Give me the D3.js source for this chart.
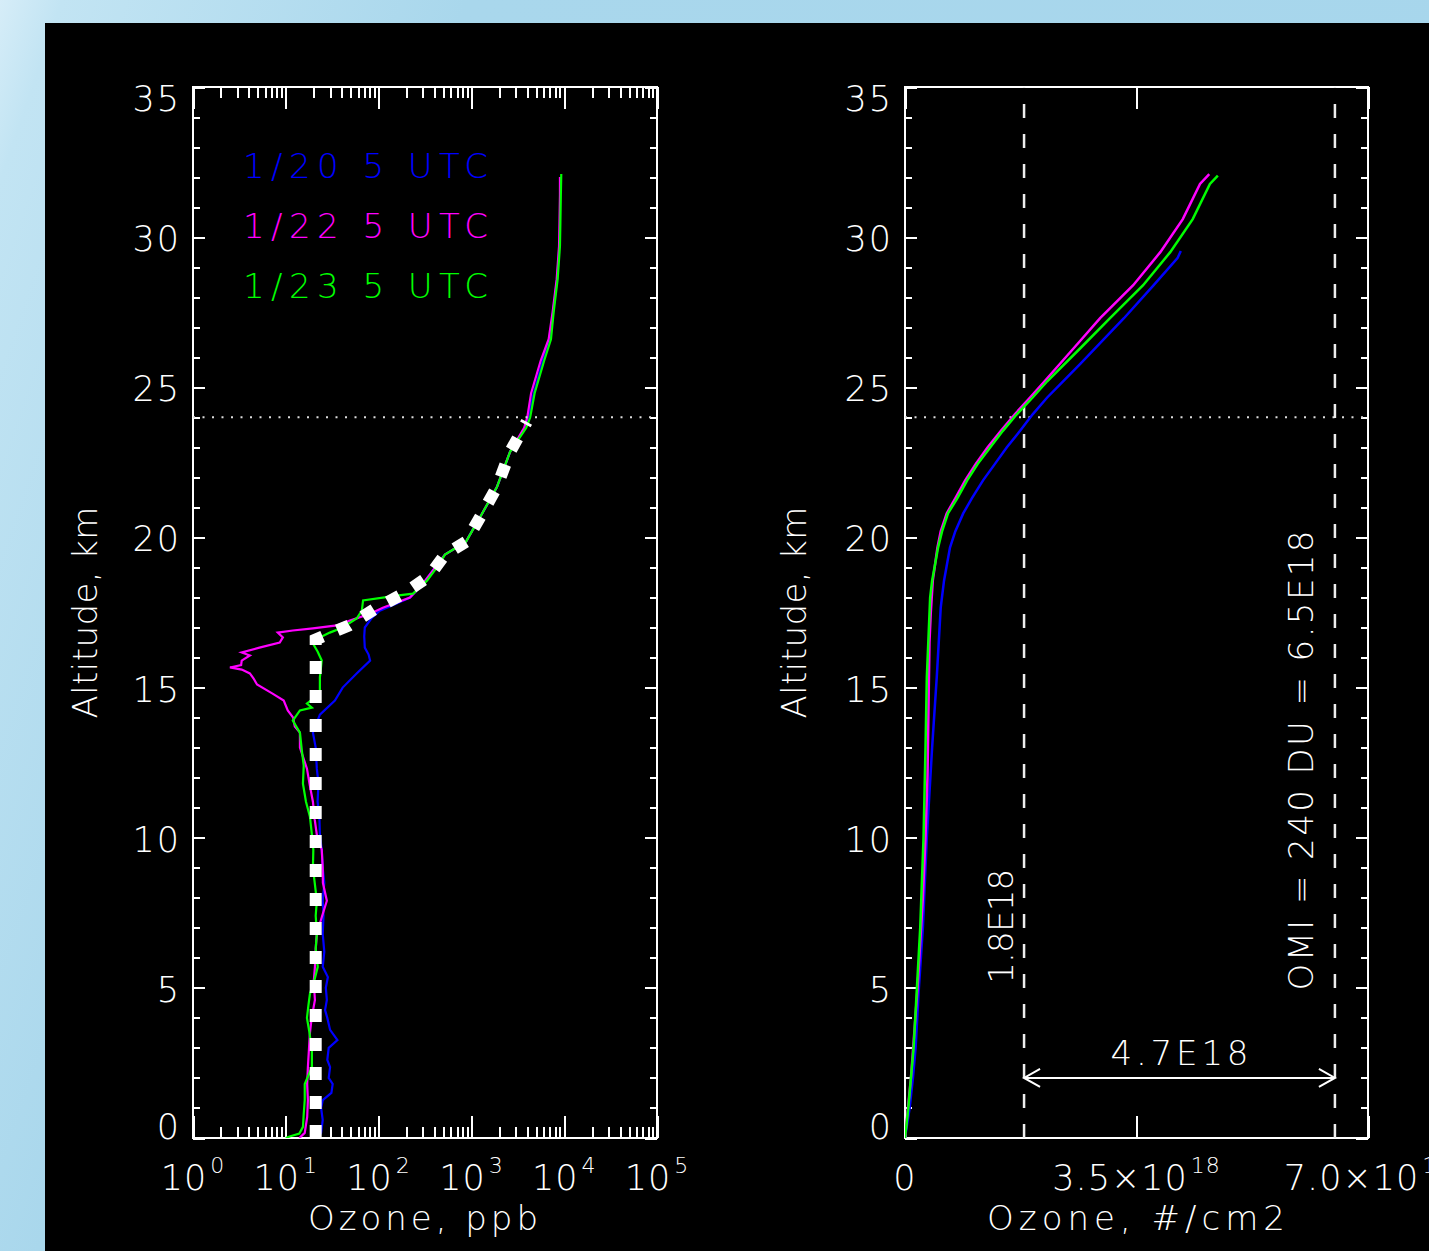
<!DOCTYPE html>
<html>
<head>
<meta charset="utf-8">
<script src="https://cdn.jsdelivr.net/npm/d3@7"></script>
<style>
  html, body { margin: 0; padding: 0; background: #a9d7ec; }
  svg { display: block; }
  text { font-family: "DejaVu Sans", sans-serif; font-weight: 200; fill: #fff; }
</style>
</head>
<body>
<svg width="1429" height="1251"></svg>
<script>
// ---- ozone mixing ratio profiles (ppb vs km) ----
const altBlue = [0, 0.17, 0.6, 1.0, 1.26, 1.5, 1.8, 2.0, 2.36, 2.6, 3.0, 3.26, 3.6, 4.0, 4.26, 4.6, 5.0, 5.36, 5.7, 6.2, 6.8, 7.4, 7.9, 8.5, 9.0, 9.6, 10.1, 10.7, 11.2, 11.8, 12.3, 13.0, 13.5, 14.1, 14.57, 15.0, 15.47, 15.9, 16.1, 16.33, 16.7, 17.0, 17.33, 17.56, 17.8, 18.0, 18.46, 18.9, 19.43, 19.86, 20.3, 20.73, 21.2, 21.69, 22.3, 22.85, 23.65, 24.0, 24.8, 25.9, 26.6, 27.5, 28.6, 29.5];
const ppbBlue = [22, 24, 25, 24, 25, 31, 32, 29, 30, 28, 29, 36, 30, 28, 26.5, 27.7, 27, 28.4, 25, 26, 25, 25.5, 25, 26, 25, 24.4, 23.3, 23, 22, 22.5, 21.6, 21, 19.6, 23.3, 33.8, 41, 58, 81, 78, 71, 70, 71, 85, 103, 157, 218, 300, 385, 519, 875, 1050, 1270, 1550, 1890, 2250, 2610, 3790, 4080, 4700, 5900, 7040, 7590, 8380, 8800];

const altMag = [0, 0.17, 0.7, 1.26, 1.8, 2.36, 3.0, 3.5, 4.0, 4.6, 5.2, 5.7, 6.3, 6.8, 7.35, 7.9, 8.5, 9.0, 9.6, 10.1, 10.6, 11.2, 11.8, 12.3, 13.0, 13.5, 13.7, 14.0, 14.24, 14.57, 14.8, 15.1, 15.3, 15.47, 15.6, 15.67, 15.75, 15.9, 16.07, 16.17, 16.33, 16.5, 16.67, 16.83, 16.9, 16.97, 17.07, 17.23, 17.46, 17.66, 18.0, 18.46, 18.9, 19.43, 19.86, 20.73, 21.69, 22.85, 23.65, 24.0, 24.8, 25.9, 26.6, 27.5, 28.6, 29.7, 30.5, 31.4, 32.0];
const ppbMag = [14, 16, 17, 17.3, 17, 17.3, 17.8, 18.2, 19, 20.6, 20, 20.6, 21, 21.6, 24.4, 27.7, 25.1, 25, 24.4, 21.6, 20.5, 19.6, 18, 16.9, 14.2, 14.2, 12.5, 12, 10.5, 9.5, 7.2, 4.9, 4.5, 4.1, 3.35, 2.5, 3.3, 3.35, 4.1, 3.35, 5.2, 8.6, 9.3, 8.2, 11.9, 19.6, 35.5, 49, 81, 111, 218, 300, 385, 519, 875, 1270, 1890, 2610, 3700, 4000, 4400, 5600, 6800, 7500, 8300, 8800, 8900, 9000, 9000];

const altGrn = [0, 0.05, 0.15, 0.37, 0.8, 1.26, 1.8, 2.36, 2.9, 3.5, 4.0, 4.4, 4.8, 5.3, 5.7, 6.3, 6.8, 7.4, 7.9, 8.5, 9.0, 9.6, 10.1, 10.7, 11.2, 11.8, 12.4, 12.9, 13.5, 13.9, 14.24, 14.33, 14.47, 14.8, 15.34, 15.9, 16.2, 16.47, 16.67, 16.83, 17.0, 17.3, 17.56, 17.9, 18.06, 18.13, 18.56, 19.0, 19.43, 19.86, 20.73, 21.69, 22.85, 23.65, 24.0, 24.8, 25.9, 26.6, 27.5, 28.6, 29.7, 30.5, 31.4, 32.1];
const ppbGrn = [10, 11, 14, 15.3, 15.6, 16, 16, 19.1, 19.1, 18, 16.9, 17.5, 18.2, 20.5, 22.1, 21, 21.6, 21, 21.6, 20.5, 19.6, 19.8, 19.1, 18.2, 16.5, 15.3, 15.6, 14.9, 14.2, 11.9, 14.2, 19.1, 16.9, 23.3, 23.3, 24.4, 22, 19.6, 23.3, 29.8, 41, 58, 66, 68, 157, 235, 332, 425, 519, 875, 1270, 1890, 2610, 3900, 4300, 4800, 6100, 7200, 7700, 8500, 9000, 9100, 9200, 9300];

// thick white dashed reference profile
const altModel = [0, 16.6, 17.07, 17.6, 18.13, 18.7, 19.43, 19.86, 20.73, 21.69, 22.85, 23.85];
const ppbModel = [21, 21, 48, 89, 186, 348, 520, 875, 1270, 1890, 2610, 3950];

// ---- cumulative ozone column (x 10^18 #/cm2 vs km) ----
const colAltBlue = [0, 1, 2, 3, 5, 7, 10, 13, 15.34, 17.66, 18.56, 19.66, 20.2, 20.8, 21.3, 21.9, 22.45, 23.0, 23.55, 24.1, 24.66, 25.2, 25.78, 27.3, 28.4, 29.3, 29.54];
const colBlue = [0, 0.07, 0.12, 0.16, 0.21, 0.27, 0.33, 0.41, 0.48, 0.54, 0.59, 0.68, 0.76, 0.88, 1.01, 1.18, 1.36, 1.54, 1.74, 1.93, 2.15, 2.39, 2.65, 3.31, 3.76, 4.12, 4.17];
const colAltMag = [0, 2, 5, 8, 10, 12, 15, 16.5, 17.5, 18.56, 19.66, 20.2, 20.8, 21.3, 21.9, 22.45, 23.0, 23.55, 24.1, 24.66, 25.2, 26.55, 27.3, 28.4, 29.5, 30.6, 31.77, 32.1];
const colMag = [0, 0.09, 0.19, 0.27, 0.31, 0.34, 0.36, 0.37, 0.39, 0.42, 0.49, 0.54, 0.63, 0.76, 0.91, 1.07, 1.25, 1.45, 1.66, 1.89, 2.11, 2.65, 2.95, 3.45, 3.86, 4.20, 4.46, 4.60];
const colAltGrn = [0, 1, 2, 3, 5, 7, 10, 13, 15.34, 18.0, 18.56, 19.66, 20.2, 20.8, 21.3, 21.9, 22.45, 23.0, 23.55, 24.1, 24.66, 25.2, 26.3, 27.3, 28.4, 29.5, 30.6, 31.77, 32.05];
const colGrn = [0, 0.05, 0.09, 0.13, 0.18, 0.23, 0.28, 0.31, 0.33, 0.38, 0.41, 0.50, 0.56, 0.65, 0.79, 0.94, 1.10, 1.29, 1.48, 1.69, 1.93, 2.15, 2.65, 3.10, 3.60, 4.01, 4.35, 4.61, 4.73];

const legendLabels = ['1/20 5 UTC', '1/22 5 UTC', '1/23 5 UTC'];
const seriesColors = ['#0000ff', '#ff00ff', '#00ff00'];
const altTicks = [0, 5, 10, 15, 20, 25, 30, 35];
const logExponents = [0, 1, 2, 3, 4, 5];
const colTicks = [0, 3.5, 7.0];
const tropAlt = 24;          // dotted line
const colMarks = [1.8, 6.5]; // dashed lines, x 10^18

const svg = d3.select('svg');

// background sky + black plot card
const defs = svg.append('defs');
const grad = defs.append('linearGradient').attr('id', 'sky').attr('x1', 0).attr('x2', 1).attr('y1', 0).attr('y2', 0.3);
grad.append('stop').attr('offset', '0%').attr('stop-color', '#d6edf8');
grad.append('stop').attr('offset', '4%').attr('stop-color', '#c2e4f3');
grad.append('stop').attr('offset', '30%').attr('stop-color', '#a9d7ec');
grad.append('stop').attr('offset', '100%').attr('stop-color', '#a7d6ec');
svg.append('rect').attr('width', 1429).attr('height', 1251).attr('fill', 'url(#sky)');
svg.append('rect').attr('x', 45).attr('y', 23).attr('width', 1384).attr('height', 1228).attr('fill', '#000');

const y = d3.scaleLinear().domain([0, 35]).range([1138, 87]);
const xL = d3.scaleLog().domain([1, 1e5]).range([193, 657]);
const xR = d3.scaleLinear().domain([0, 7]).range([905, 1368]);

const toPts = (a, v) => a.map((d, i) => ({ a: d, v: v[i] }));

function drawFrame(x, yTitleX) {
  const [x0, x1] = x.range();
  const g = svg.append('g').attr('color', '#fff').attr('shape-rendering', 'crispEdges');
  const strip = s => s.call(a => a.select('.domain').remove()).selectAll('line').attr('stroke-width', 2);

  // altitude ticks, inside on both sides
  [[d3.axisRight, x0], [d3.axisLeft, x1]].forEach(([ax, px]) => {
    g.append('g').attr('transform', `translate(${px},0)`)
      .call(ax(y).tickValues(d3.range(0, 36, 1)).tickSize(7).tickFormat('')).call(strip);
    g.append('g').attr('transform', `translate(${px},0)`)
      .call(ax(y).tickValues(altTicks).tickSize(12).tickFormat('')).call(strip);
  });

  g.append('rect').attr('x', x0).attr('y', y(35)).attr('width', x1 - x0).attr('height', y(0) - y(35))
    .attr('fill', 'none').attr('stroke', '#fff').attr('stroke-width', 2);

  svg.append('g').selectAll('text').data(altTicks).join('text')
    .attr('x', x0 - 12)
    .attr('y', d => Math.min(Math.max(y(d) + 2, y(35) + 12), y(0) - 11))
    .attr('dominant-baseline', 'central')
    .attr('text-anchor', 'end')
    .attr('font-size', 35).attr('letter-spacing', 2)
    .text(d => d);

  svg.append('text')
    .attr('transform', `translate(${yTitleX},${(y(0) + y(35)) / 2}) rotate(-90)`)
    .attr('text-anchor', 'middle').attr('font-size', 34)
    .attr('textLength', 212).attr('lengthAdjust', 'spacing')
    .text('Altitude, km');
  return g;
}

// ================= left panel =================
const gl = drawFrame(xL, 97);
const minorLog = [];
logExponents.slice(0, -1).forEach(e => d3.range(2, 10).forEach(m => minorLog.push(m * Math.pow(10, e))));
const majorLog = logExponents.map(e => Math.pow(10, e));
[[d3.axisTop, y(0)], [d3.axisBottom, y(35)]].forEach(([ax, py]) => {
  gl.append('g').attr('transform', `translate(0,${py})`)
    .call(ax(xL).tickValues(minorLog).tickSize(11).tickFormat(''))
    .call(a => a.select('.domain').remove()).selectAll('line').attr('stroke-width', 2);
  gl.append('g').attr('transform', `translate(0,${py})`)
    .call(ax(xL).tickValues(majorLog).tickSize(22).tickFormat(''))
    .call(a => a.select('.domain').remove()).selectAll('line').attr('stroke-width', 2);
});

const lblL = svg.append('g').selectAll('text').data(logExponents).join('text')
  .attr('x', d => xL(Math.pow(10, d))).attr('y', 1190)
  .attr('text-anchor', 'middle').attr('font-size', 35).attr('letter-spacing', 1);
lblL.append('tspan').text('10');
lblL.append('tspan').attr('dx', 3).attr('dy', -17).attr('font-size', 22).text(d => d);

svg.append('text').attr('x', 423).attr('y', 1230).attr('text-anchor', 'middle')
  .attr('font-size', 34).attr('textLength', 230).attr('lengthAdjust', 'spacing').text('Ozone, ppb');

const clipL = defs.append('clipPath').attr('id', 'clipL');
clipL.append('rect').attr('x', 193).attr('y', 87).attr('width', 464).attr('height', 1051);

const lineL = d3.line().x(d => xL(d.v)).y(d => y(d.a));
const profL = [toPts(altBlue, ppbBlue), toPts(altMag, ppbMag), toPts(altGrn, ppbGrn)];
const plotL = svg.append('g').attr('clip-path', 'url(#clipL)');
plotL.selectAll('path.prof').data(profL).join('path').attr('class', 'prof')
  .attr('d', lineL).attr('fill', 'none')
  .attr('stroke', (d, i) => seriesColors[i]).attr('stroke-width', 2.2);

plotL.append('path').datum(toPts(altModel, ppbModel)).attr('d', lineL)
  .attr('fill', 'none').attr('stroke', '#fff').attr('stroke-width', 12)
  .attr('stroke-dasharray', '13,16');

plotL.append('line').attr('x1', xL(1)).attr('x2', xL(1e5)).attr('y1', y(tropAlt)).attr('y2', y(tropAlt))
  .attr('stroke', '#ddd').attr('stroke-width', 2).attr('stroke-dasharray', '2,7.5');

svg.append('g').selectAll('text').data(legendLabels).join('text')
  .attr('x', 243).attr('y', (d, i) => 178 + i * 60)
  .attr('font-size', 34).attr('textLength', 245).attr('lengthAdjust', 'spacing')
  .style('fill', (d, i) => seriesColors[i]).text(d => d);

// ================= right panel =================
const gr = drawFrame(xR, 806);
[[d3.axisTop, y(0)], [d3.axisBottom, y(35)]].forEach(([ax, py]) => {
  gr.append('g').attr('transform', `translate(0,${py})`)
    .call(ax(xR).tickValues(colTicks).tickSize(22).tickFormat(''))
    .call(a => a.select('.domain').remove()).selectAll('line').attr('stroke-width', 2);
});

const lblR = svg.append('g').selectAll('text').data(colTicks).join('text')
  .attr('x', d => xR(d)).attr('y', 1190)
  .attr('text-anchor', 'middle').attr('font-size', 35).attr('letter-spacing', 1);
lblR.append('tspan').text(d => d === 0 ? '0' : d.toFixed(1) + '\u00d710');
lblR.filter(d => d !== 0).append('tspan').attr('dx', 3).attr('dy', -17).attr('font-size', 22).text('18');

svg.append('text').attr('x', 1136).attr('y', 1230).attr('text-anchor', 'middle')
  .attr('font-size', 34).attr('textLength', 298).attr('lengthAdjust', 'spacing').text('Ozone, #/cm2');

const clipR = defs.append('clipPath').attr('id', 'clipR');
clipR.append('rect').attr('x', 905).attr('y', 87).attr('width', 463).attr('height', 1051);
const plotR = svg.append('g').attr('clip-path', 'url(#clipR)');

plotR.append('line').attr('x1', xR(0)).attr('x2', xR(7)).attr('y1', y(tropAlt)).attr('y2', y(tropAlt))
  .attr('stroke', '#ddd').attr('stroke-width', 2).attr('stroke-dasharray', '2,7.5');

plotR.selectAll('line.mark').data(colMarks).join('line').attr('class', 'mark')
  .attr('x1', d => xR(d)).attr('x2', d => xR(d)).attr('y1', y(0)).attr('y2', y(35))
  .attr('stroke', '#eee').attr('stroke-width', 2.5).attr('stroke-dasharray', '14,16');

const lineR = d3.line().x(d => xR(d.v)).y(d => y(d.a));
const profR = [toPts(colAltBlue, colBlue), toPts(colAltMag, colMag), toPts(colAltGrn, colGrn)];
plotR.selectAll('path.col').data(profR).join('path').attr('class', 'col')
  .attr('d', lineR).attr('fill', 'none')
  .attr('stroke', (d, i) => seriesColors[i]).attr('stroke-width', 2.5);

// difference arrow between the two dashed lines
const arrowAlt = 2.0;
const ay = y(arrowAlt), ax0 = xR(colMarks[0]), ax1 = xR(colMarks[1]);
const ga = svg.append('g').attr('stroke', '#fff').attr('stroke-width', 2).attr('fill', 'none');
ga.append('line').attr('x1', ax0).attr('x2', ax1).attr('y1', ay).attr('y2', ay);
ga.append('path').attr('d', `M${ax0 + 16},${ay - 9}L${ax0},${ay}L${ax0 + 16},${ay + 9}`);
ga.append('path').attr('d', `M${ax1 - 16},${ay - 9}L${ax1},${ay}L${ax1 - 16},${ay + 9}`);
svg.append('text').attr('x', (ax0 + ax1) / 2).attr('y', ay - 13).attr('text-anchor', 'middle')
  .attr('font-size', 34).attr('textLength', 138).attr('lengthAdjust', 'spacing')
  .text('4.7E18');

svg.append('text').attr('transform', `translate(${xR(colMarks[0]) - 11},${y(7.05)}) rotate(-90)`)
  .attr('text-anchor', 'middle').attr('font-size', 34)
  .attr('textLength', 115).attr('lengthAdjust', 'spacing').text('1.8E18');
svg.append('text').attr('transform', `translate(${xR(colMarks[1]) - 22},${y(12.57)}) rotate(-90)`)
  .attr('text-anchor', 'middle').attr('font-size', 34)
  .attr('textLength', 460).attr('lengthAdjust', 'spacing').text('OMI = 240 DU = 6.5E18');
</script>
</body>
</html>
